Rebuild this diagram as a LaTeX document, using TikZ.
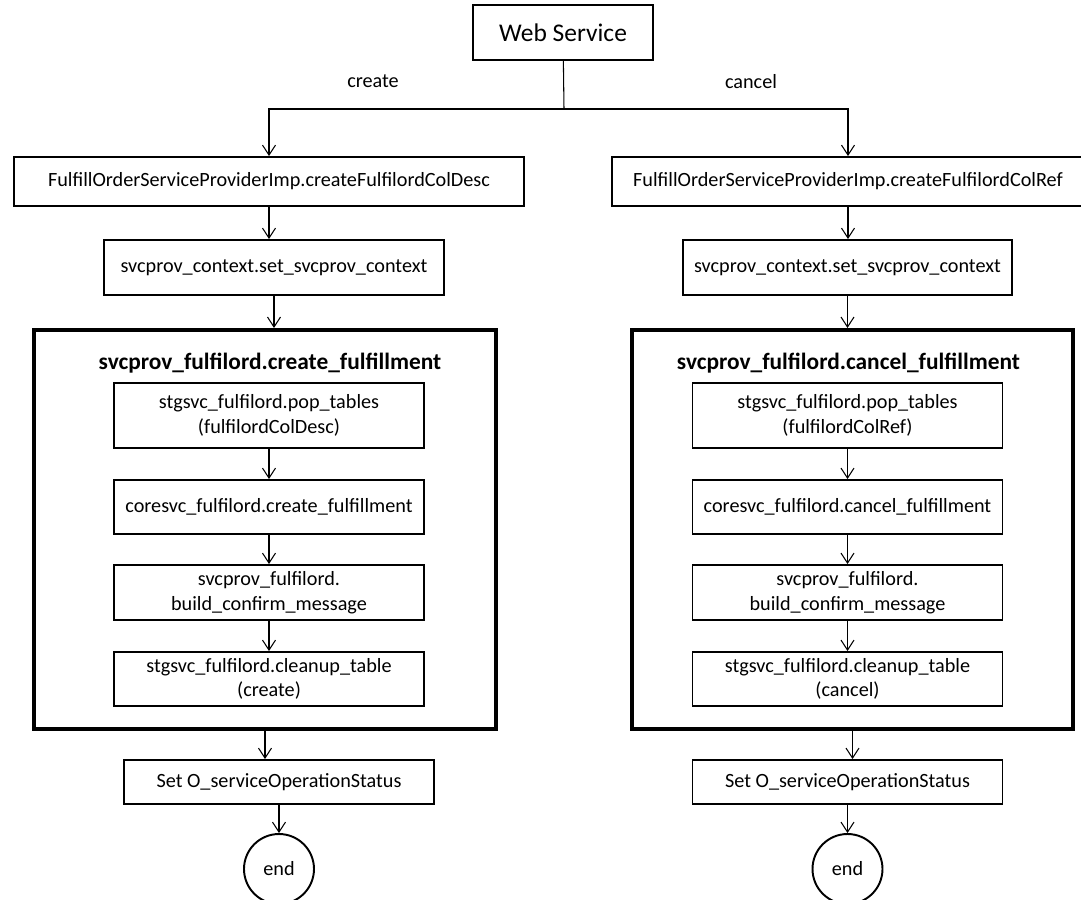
\documentclass[tikz,border=0pt]{standalone}
\usepackage{fontspec}
\setmainfont{Carlito}
\usepackage{tikz}
\usetikzlibrary{arrows.meta}

\begin{document}
\begin{tikzpicture}[square/.style={rectangle, draw, line width=1.1pt, inner sep=2pt, align=center, font=\fontsize{11.5}{14}\selectfont},
	bigsquare/.style={rectangle, draw, line width=2.3pt},
	>={Straight Barb[length=2mm,width=2.6mm]}, every path/.style={line width=0.6pt}]
	\useasboundingbox (0,0) rectangle (21.62,-17.98);
        \node at (11.26,-0.65) [square, minimum width=3.6cm, minimum height=1.1cm, font=\fontsize{14.5}{17}\selectfont] (ws100) {Web Service};
        \node at (7.46,-1.62) [font=\fontsize{11.5}{14}\selectfont] (lb100) {create};
        \node at (15.02,-1.64) [font=\fontsize{11.5}{14}\selectfont] (lb200) {cancel};
        \coordinate (sp100) at (11.28,-2.18);

        % create
        \node at (5.38,-3.63) [square, minimum width=10.2cm, minimum height=0.98cm] (cr100) {FulfillOrderServiceProviderImp.createFulfilordColDesc};
        \node at (5.48,-5.35) [square, minimum width=6.8cm, minimum height=1.1cm] (cr200) {svcprov\_context.set\_svcprov\_context};
        \node at (5.30,-10.59) [bigsquare, minimum width=9.24cm, minimum height=7.98cm] (cr300) {};
        \node at (5.40,-7.26) [font=\bfseries\fontsize{13.3}{16}\selectfont] (cr310) {svcprov\_fulfilord.create\_fulfillment};
        \node at (5.38,-8.31) [square, minimum width=6.2cm, minimum height=1.3cm] (cr320) {stgsvc\_fulfilord.pop\_tables\\(fulfilordColDesc)};
        \node at (5.38,-10.14) [square, minimum width=6.2cm, minimum height=1.08cm] (cr330) {coresvc\_fulfilord.create\_fulfillment};
        \node at (5.38,-11.85) [square, minimum width=6.2cm, minimum height=1.1cm] (cr340) {svcprov\_fulfilord.\\build\_confirm\_message};
        \node at (5.38,-13.58) [square, minimum width=6.2cm, minimum height=1.08cm] (cr350) {stgsvc\_fulfilord.cleanup\_table\\(create)};
        \node at (5.58,-15.64) [square, minimum width=6.2cm, minimum height=0.88cm] (cr400) {Set O\_serviceOperationStatus};
        \node at (5.58,-17.38) [circle, draw, line width=1.1pt, minimum size=1.4cm, font=\fontsize{11.5}{14}\selectfont] (cr500) {end};

        % cancel
        \node at (16.96,-3.63) [square, minimum width=9.44cm, minimum height=0.98cm] (ca100) {FulfillOrderServiceProviderImp.createFulfilordColRef};
        \node at (16.95,-5.35) [square, minimum width=6.58cm, minimum height=1.1cm] (ca200) {svcprov\_context.set\_svcprov\_context};
        \node at (17.05,-10.59) [bigsquare, minimum width=8.82cm, minimum height=7.98cm] (ca300) {};
        \node at (16.97,-7.26) [font=\bfseries\fontsize{13.3}{16}\selectfont] (ca310) {svcprov\_fulfilord.cancel\_fulfillment};
        \node at (16.95,-8.31) [square, minimum width=6.2cm, minimum height=1.3cm] (ca320) {stgsvc\_fulfilord.pop\_tables\\(fulfilordColRef)};
        \node at (16.95,-10.14) [square, minimum width=6.2cm, minimum height=1.08cm] (ca330) {coresvc\_fulfilord.cancel\_fulfillment};
        \node at (16.95,-11.85) [square, minimum width=6.2cm, minimum height=1.1cm] (ca340) {svcprov\_fulfilord.\\build\_confirm\_message};
        \node at (16.95,-13.58) [square, minimum width=6.2cm, minimum height=1.08cm] (ca350) {stgsvc\_fulfilord.cleanup\_table\\(cancel)};
        \node at (16.95,-15.64) [square, minimum width=6.2cm, minimum height=0.88cm] (ca400) {Set O\_serviceOperationStatus};
        \node at (16.95,-17.38) [circle, draw, line width=1.1pt, minimum size=1.4cm, font=\fontsize{11.5}{14}\selectfont] (ca500) {end};

        \draw (ws100) -- (sp100);
        \draw [->](sp100) -| (cr100);
        \draw [->](sp100) -| (ca100);
        \draw [->](cr100) -- (cr100 |- cr200.north);
        \draw [->](cr200) -- (cr200 |- cr300.north);
        \draw [->](cr320) -- (cr330);
        \draw [->](cr330) -- (cr340);
        \draw [->](cr340) -- (cr350);
        \draw [->](cr300) -- (cr300 |- cr400.north);
        \draw [->](cr400) -- (cr400 |- cr500.north);
        \draw [->](ca100) -- (ca100 |- ca200.north);
        \draw [->](ca200) -- (ca200 |- ca300.north);
        \draw [->](ca320) -- (ca330);
        \draw [->](ca330) -- (ca340);
        \draw [->](ca340) -- (ca350);
        \draw [->](ca300) -- (ca300 |- ca400.north);
        \draw [->](ca400) -- (ca400 |- ca500.north);
    \end{tikzpicture}
\end{document}
